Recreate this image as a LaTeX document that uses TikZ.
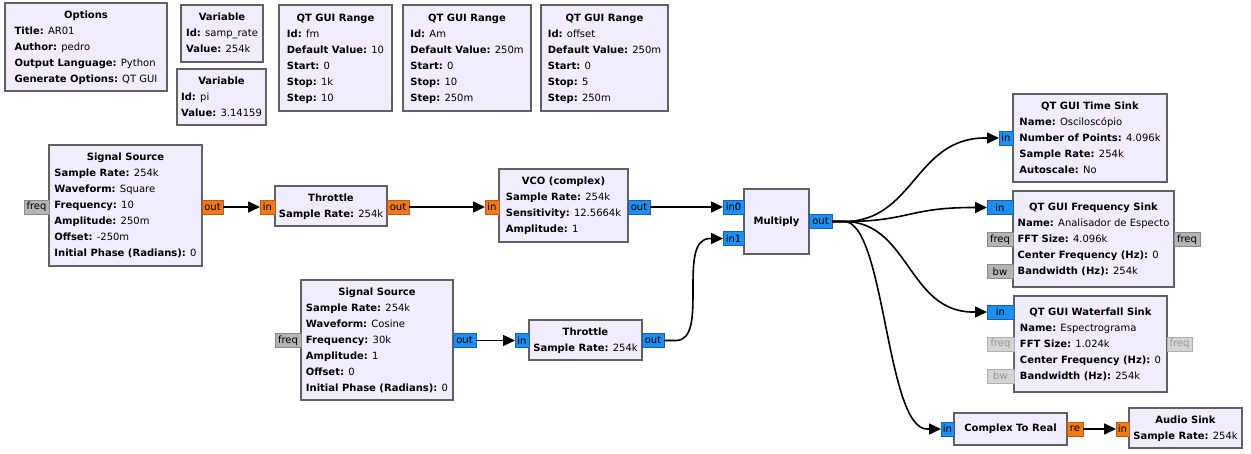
\documentclass[tikz,border=0pt]{standalone}
\usepackage{fontspec}
\setmainfont{DejaVu Sans}
\usetikzlibrary{arrows.meta}
\definecolor{bfill}{HTML}{F1ECFF}
\definecolor{bdraw}{HTML}{616161}
\definecolor{pfloatf}{HTML}{F37A18}
\definecolor{pfloatd}{HTML}{BF5A1A}
\definecolor{pcplxf}{HTML}{1E8EF0}
\definecolor{pcplxd}{HTML}{1C5FAE}
\definecolor{pmsgf}{HTML}{B4B4B4}
\definecolor{pmsgd}{HTML}{8A8A8A}
\definecolor{pfadef}{HTML}{D4D4D4}
\definecolor{pfaded}{HTML}{B0B0B0}
\definecolor{pfadet}{HTML}{979797}
\newcommand{\blkhead}[1]{\multicolumn{1}{@{}c@{}}{\textbf{#1}}}
\newcommand{\prm}[2]{\textbf{#1:} #2}
\tikzset{
  blk/.style={draw=bdraw, fill=bfill, line width=1.8pt, inner sep=0pt, outer sep=0pt,
    anchor=north west, font=\fontsize{10}{16}\selectfont},
  port/.style={minimum height=14pt, inner sep=0pt, outer sep=0pt, line width=0.8pt,
    font=\fontsize{10}{12}\selectfont},
  pf/.style={port, draw=pfloatd, fill=pfloatf},
  pc/.style={port, draw=pcplxd, fill=pcplxf},
  pm/.style={port, draw=pmsgd, fill=pmsgf},
  pmf/.style={port, draw=pfaded, fill=pfadef, text=pfadet},
  conn/.style={line width=1.6pt, -{Triangle[length=12pt,width=11pt]}}
}
\begin{document}
\begin{tikzpicture}[x=1pt,y=-1pt]
\useasboundingbox (0,0) rectangle (1251,453);

% ---------- parameter blocks ----------
\node[blk, minimum width=162pt, minimum height=88pt] (opt) at (5,3)
 {\begin{tabular}{@{}l@{}}\blkhead{Options}\\\prm{Title}{AR01}\\\prm{Author}{pedro}\\\prm{Output Language}{Python}\\\prm{Generate Options}{QT GUI}\end{tabular}};
\node[blk, minimum width=82pt, minimum height=57pt] (var1) at (181,5)
 {\begin{tabular}{@{}l@{}}\blkhead{Variable}\\\prm{Id}{samp\_rate}\\\prm{Value}{254k}\end{tabular}};
\node[blk, minimum width=89pt, minimum height=56pt] (var2) at (177,69)
 {\begin{tabular}{@{}l@{}}\blkhead{Variable}\\\prm{Id}{pi}\\\prm{Value}{3.14159}\end{tabular}};
\node[blk, minimum width=113pt, minimum height=106pt] (rfm) at (279,5)
 {\begin{tabular}{@{}l@{}}\blkhead{QT GUI Range}\\\prm{Id}{fm}\\\prm{Default Value}{10}\\\prm{Start}{0}\\\prm{Stop}{1k}\\\prm{Step}{10}\end{tabular}};
\node[blk, minimum width=128pt, minimum height=106pt] (ram) at (403,5)
 {\begin{tabular}{@{}l@{}}\blkhead{QT GUI Range}\\\prm{Id}{Am}\\\prm{Default Value}{250m}\\\prm{Start}{0}\\\prm{Stop}{10}\\\prm{Step}{250m}\end{tabular}};
\node[blk, minimum width=127pt, minimum height=106pt] (roff) at (541,5)
 {\begin{tabular}{@{}l@{}}\blkhead{QT GUI Range}\\\prm{Id}{offset}\\\prm{Default Value}{250m}\\\prm{Start}{0}\\\prm{Stop}{5}\\\prm{Step}{250m}\end{tabular}};

% ---------- flow blocks ----------
\node[blk, minimum width=153pt, minimum height=121pt] (ss1) at (49,145)
 {\begin{tabular}{@{}l@{}}\blkhead{Signal Source}\\\prm{Sample Rate}{254k}\\\prm{Waveform}{Square}\\\prm{Frequency}{10}\\\prm{Amplitude}{250m}\\\prm{Offset}{-250m}\\\prm{Initial Phase (Radians)}{0}\end{tabular}};
\node[blk, minimum width=112pt, minimum height=40pt] (thr1) at (275,186)
 {\begin{tabular}{@{}l@{}}\blkhead{Throttle}\\\prm{Sample Rate}{254k}\end{tabular}};
\node[blk, minimum width=129pt, minimum height=73pt] (vco) at (499,169)
 {\begin{tabular}{@{}l@{}}\blkhead{VCO (complex)}\\\prm{Sample Rate}{254k}\\\prm{Sensitivity}{12.5664k}\\\prm{Amplitude}{1}\end{tabular}};
\node[blk, minimum width=65pt, minimum height=65pt] (mul) at (744,189) {\textbf{Multiply}};
\node[blk, minimum width=152pt, minimum height=120pt] (ss2) at (301,280)
 {\begin{tabular}{@{}l@{}}\blkhead{Signal Source}\\\prm{Sample Rate}{254k}\\\prm{Waveform}{Cosine}\\\prm{Frequency}{30k}\\\prm{Amplitude}{1}\\\prm{Offset}{0}\\\prm{Initial Phase (Radians)}{0}\end{tabular}};
\node[blk, minimum width=113pt, minimum height=40pt] (thr2) at (529,320)
 {\begin{tabular}{@{}l@{}}\blkhead{Throttle}\\\prm{Sample Rate}{254k}\end{tabular}};
\node[blk, minimum width=154pt, minimum height=88pt] (tsink) at (1013,94)
 {\begin{tabular}{@{}l@{}}\blkhead{QT GUI Time Sink}\\\prm{Name}{Osciloscópio}\\\prm{Number of Points}{4.096k}\\\prm{Sample Rate}{254k}\\\prm{Autoscale}{No}\end{tabular}};
\node[blk, minimum width=161pt, minimum height=96pt] (fsink) at (1013,191)
 {\begin{tabular}{@{}l@{}}\blkhead{QT GUI Frequency Sink}\\\prm{Name}{Analisador de Especto}\\\prm{FFT Size}{4.096k}\\\prm{Center Frequency (Hz)}{0}\\\prm{Bandwidth (Hz)}{254k}\end{tabular}};
\node[blk, minimum width=153pt, minimum height=96pt] (wsink) at (1014,296)
 {\begin{tabular}{@{}l@{}}\blkhead{QT GUI Waterfall Sink}\\\prm{Name}{Espectrograma}\\\prm{FFT Size}{1.024k}\\\prm{Center Frequency (Hz)}{0}\\\prm{Bandwidth (Hz)}{254k}\end{tabular}};
\node[blk, minimum width=113pt, minimum height=32pt] (c2r) at (954,413) {\textbf{Complex To Real}};
\node[blk, minimum width=113pt, minimum height=40pt] (asink) at (1129,408)
 {\begin{tabular}{@{}l@{}}\blkhead{Audio Sink}\\\prm{Sample Rate}{254k}\end{tabular}};

% ---------- ports ----------
\node[pm, anchor=east, minimum width=25pt] (ss1f) at (49,207) {freq};
\node[pf, anchor=west, minimum width=21pt] (ss1o) at (202,207) {out};
\node[pf, anchor=east, minimum width=15pt] (t1i) at (275,207) {in};
\node[pf, anchor=west, minimum width=22pt] (t1o) at (387,207) {out};
\node[pf, anchor=east, minimum width=14pt] (vcoi) at (499,207) {in};
\node[pc, anchor=west, minimum width=22pt] (vcoo) at (628,207) {out};
\node[pc, anchor=east, minimum width=21pt] (mi0) at (744,207) {in0};
\node[pc, anchor=east, minimum width=21pt] (mi1) at (744,238.5) {in1};
\node[pc, anchor=west, minimum width=23pt] (mo) at (809,221.5) {out};
\node[pm, anchor=east, minimum width=26pt] (ss2f) at (301,340.5) {freq};
\node[pc, anchor=west, minimum width=23pt] (ss2o) at (453,340.5) {out};
\node[pc, anchor=east, minimum width=14pt] (t2i) at (529,340.5) {in};
\node[pc, anchor=west, minimum width=22pt] (t2o) at (642,340.5) {out};
\node[pc, anchor=east, minimum width=14pt] (tsi) at (1013,138) {in};
\node[pc, anchor=east, minimum width=26pt] (fsi) at (1013,207.5) {in};
\node[pm, anchor=east, minimum width=26pt] (fsf) at (1013,239.5) {freq};
\node[pm, anchor=east, minimum width=26pt] (fsb) at (1013,271.5) {bw};
\node[pm, anchor=west, minimum width=26pt] (fsfo) at (1174,239.5) {freq};
\node[pc, anchor=east, minimum width=27pt] (wsi) at (1014,312) {in};
\node[pmf, anchor=east, minimum width=27pt] (wsf) at (1014,344) {freq};
\node[pmf, anchor=east, minimum width=27pt] (wsb) at (1014,376) {bw};
\node[pmf, anchor=west, minimum width=25pt] (wsfo) at (1167,344) {freq};
\node[pc, anchor=east, minimum width=13pt] (c2ri) at (954,429) {in};
\node[pf, anchor=west, minimum width=16pt] (c2ro) at (1067,429) {re};
\node[pf, anchor=east, minimum width=13pt] (asi) at (1129,429) {in};

% ---------- connections ----------
\draw[conn] (ss1o.east) -- (t1i.west);
\draw[conn] (t1o.east) -- (vcoi.west);
\draw[conn] (vcoo.east) -- (mi0.west);
\draw[conn] (ss2o.east) -- (t2i.west);
\draw[conn] (c2ro.east) -- (asi.west);
\draw[conn] (t2o.east) -- ++(12,0) .. controls +(34,0) and +(-34,0) .. ([xshift=-13pt]mi1.west) -- (mi1.west);
\draw[conn] (mo.east) -- ++(12,0) .. controls +(70,0) and +(-70,0) .. ([xshift=-14pt]tsi.west) -- (tsi.west);
\draw[conn] (mo.east) -- ++(12,0) .. controls +(65,0) and +(-65,0) .. ([xshift=-14pt]fsi.west) -- (fsi.west);
\draw[conn] (mo.east) -- ++(12,0) .. controls +(65,0) and +(-65,0) .. ([xshift=-14pt]wsi.west) -- (wsi.west);
\draw[conn] (mo.east) -- ++(12,0) .. controls +(41,0) and +(-41,0) .. ([xshift=-14pt]c2ri.west) -- (c2ri.west);
\end{tikzpicture}
\end{document}
